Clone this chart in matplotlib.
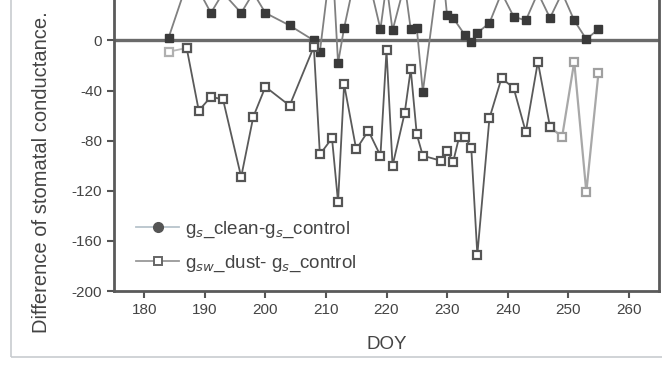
import matplotlib
matplotlib.use("Agg")
import matplotlib.pyplot as plt
from matplotlib.patches import Rectangle

plt.rcParams['font.family'] = ['Liberation Sans', 'DejaVu Sans']
plt.rcParams['axes.unicode_minus'] = False

# g_s clean - g_s control (values above ~30 run off the top of the cropped figure)
clean_doy = [184, 187, 189, 191, 193, 196, 198, 200, 204, 208, 209, 211, 212, 213,
             215, 217, 219, 220, 221, 223, 224, 225, 226, 229, 230, 231, 233, 234,
             235, 237, 239, 241, 243, 245, 247, 249, 251, 253, 255]
clean_val = [2, 45, 40, 22, 38, 22, 38, 22, 12, 0, -9, 70, -18, 10,
             55, 50, 9, 45, 8, 45, 9, 10, -41, 70, 20, 18, 4, -1,
             6, 14, 38, 19, 16, 38, 18, 38, 16, 1, 9]

# g_s dust - g_s control
dust_doy = [184, 187, 189, 191, 193, 196, 198, 200, 204, 208, 209, 211, 212, 213,
            215, 217, 219, 220, 221, 223, 224, 225, 226, 229, 230, 231, 232, 233,
            234, 235, 237, 239, 241, 243, 245, 247, 249, 251, 253, 255]
dust_val = [-9, -6, -56, -45, -47, -109, -61, -37, -52, -5, -91, -78, -129, -35,
            -87, -72, -92, -8, -100, -58, -23, -75, -92, -96, -88, -97, -77, -77,
            -86, -171, -62, -30, -38, -73, -17, -69, -77, -17, -121, -26]

x_ticks = [180, 190, 200, 210, 220, 230, 240, 250, 260]
y_ticks = [0, -40, -80, -120, -160, -200]

fig = plt.figure(figsize=(6.62, 3.71), dpi=100)
fig.patches.append(Rectangle((11 / 662, 14 / 371), 1.0, 1.0, transform=fig.transFigure,
                             fill=False, edgecolor='#c8ccd0', linewidth=1.2))

# the axes top runs past the top edge, as in the cropped scan
ax = fig.add_axes([114 / 662, 80 / 371, 545 / 662, 1.0935 - 80 / 371])
ax.set_xlim(175, 265)
ax.set_ylim(-200, 60)

ax.axhline(0, color='#6a6a6a', linewidth=2.4, zorder=1)

# clean series
ax.plot(clean_doy, clean_val, color='#808080', linewidth=1.3, marker='s',
        markersize=6, markerfacecolor='#3a3a3a', markeredgecolor='#3a3a3a', zorder=3)

# dust series: faint at both ends, as in the scan
ax.plot(dust_doy[:2], dust_val[:2], color='#b8b8b8', linewidth=1.3, marker='s',
        markersize=5.5, markerfacecolor='white', markeredgecolor='#b0b0b0',
        markeredgewidth=1.6, zorder=2)
ax.plot(dust_doy[35:], dust_val[35:], color='#a8a8a8', linewidth=1.6, marker='s',
        markersize=5.5, markerfacecolor='white', markeredgecolor='#a0a0a0',
        markeredgewidth=1.6, zorder=2)
ax.plot(dust_doy[1:36], dust_val[1:36], color='#5a5a5a', linewidth=1.3, marker='s',
        markersize=5.5, markerfacecolor='white', markeredgecolor='#555555',
        markeredgewidth=1.6, zorder=3)

ax.set_xticks(x_ticks)
ax.set_yticks(y_ticks)
ax.tick_params(axis='both', colors='#555555', labelcolor='#444444', labelsize=11,
               width=1.5, length=5)
for side in ['left', 'bottom', 'right']:
    ax.spines[side].set_color('#5a5a5a')
    ax.spines[side].set_linewidth(2)
ax.spines['top'].set_visible(False)

ax.set_xlabel('DOY', fontsize=13.5, color='#444444', labelpad=14)

h1, = ax.plot([], [], color='#b8c4cc', linewidth=1.3, marker='o', markersize=7,
              markerfacecolor='#555555', markeredgecolor='#555555')
h2, = ax.plot([], [], color='#999999', linewidth=1.3, marker='s', markersize=6,
              markerfacecolor='white', markeredgecolor='#666666', markeredgewidth=1.4)
ax.legend([h1, h2], [r'g$_s$_clean-g$_s$_control', r'g$_{sw}$_dust- g$_s$_control'],
          loc='lower left', bbox_to_anchor=(0.01, 0.0), frameon=False, fontsize=13.5,
          handlelength=2.3, handletextpad=0.3, labelspacing=0.75, labelcolor='#444444')

fig.text(42 / 662, 38 / 371, 'Difference of stomatal conductance.', rotation=90,
         ha='center', va='bottom', fontsize=14.5, color='#444444')

fig.savefig('out.png', dpi=100)
